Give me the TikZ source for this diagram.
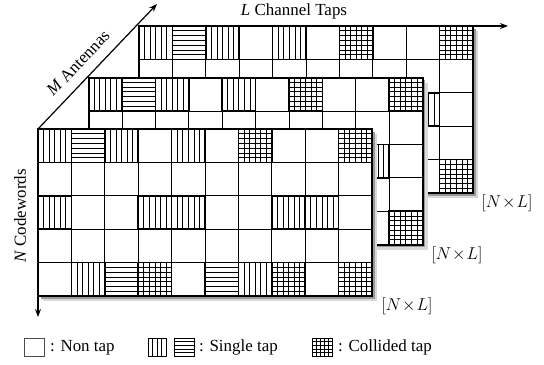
\documentclass[tikz,border=0pt]{standalone}
\usepackage{fontspec}
\setmainfont{Liberation Serif}
\usetikzlibrary{arrows.meta}
\def\cs{33.4}
\tikzset{
  cellline/.style={line width=0.8bp},
  patline/.style={line width=0.7bp},
  tapbox/.style={line width=1.6bp},
  gridframe/.style={line width=2bp},
  lbl/.style={font=\fontsize{17}{20}\selectfont, inner sep=0pt},
  axisarrow/.style={line width=1.2bp, -{Stealth[length=8bp,width=6bp]}},
  legbox/.style={line width=0.6bp},
}
\newcommand\gridlayer[2]{%
\begin{scope}[shift={(#1,#2)}]
  \fill[black!15] (5,5) rectangle (339,172);
  \fill[black!40] (2.5,2.5) rectangle (336.5,169.5);
  \fill[white] (0,0) rectangle (334,167);
  \foreach \cc/\rr in {0/0,2/0,4/0,0/2,3/2,4/2,7/2,8/2,1/4,6/4,6/0,9/0,3/4,7/4,9/4}
    \foreach \kk in {1,...,5}
      \draw[patline] ({(\cc+\kk/6)*\cs},{\rr*\cs}) -- ++(0,\cs);
  \foreach \cc/\rr in {1/0,2/4,5/4,6/0,9/0,3/4,7/4,9/4}
    \foreach \kk in {1,...,6}
      \draw[patline] ({\cc*\cs},{(\rr+\kk/7)*\cs}) -- ++(\cs,0);
  \foreach \ii in {1,...,9} \draw[cellline] ({\ii*\cs},0) -- ({\ii*\cs},167);
  \foreach \jj in {1,...,4} \draw[cellline] (0,{\jj*\cs}) -- (334,{\jj*\cs});
  \foreach \cc/\rr in {0/0,2/0,4/0,0/2,3/2,4/2,7/2,8/2,1/4,6/4,6/0,9/0,3/4,7/4,9/4,1/0,2/4,5/4}
    \draw[tapbox] ({\cc*\cs},{\rr*\cs}) rectangle ++(\cs,\cs);
  \draw[gridframe] (0,0) rectangle (334,167);
\end{scope}}
\begin{document}
\begin{tikzpicture}[x=1bp,y=-1bp]
\useasboundingbox (0,0) rectangle (544,364);
% layers (back to front)
\gridlayer{139}{26}
\gridlayer{88.5}{77.5}
\gridlayer{38}{129}
% axes
\coordinate (orig) at (38,129);
\coordinate (backtl) at (139,26);
\coordinate (mend) at (157,4);
\coordinate (lend) at (508,26);
\coordinate (nend) at (38,317);
\draw[axisarrow] (orig) -- (mend);
\draw[axisarrow] (backtl) -- (lend);
\draw[axisarrow] (orig) -- (nend);
% labels
\node[lbl] (llab) at (294,11) {\textit{L} Channel Taps};
\node[lbl, rotate=46.4] (mlab) at (78,63) {\textit{M} Antennas};
\node[lbl, rotate=90] (nlab) at (20,216) {\textit{N} Codewords};
\node[lbl] (dimf) at (407,306) {$[N\!\times\! L]$};
\node[lbl] (dimm) at (457,255) {$[N\!\times\! L]$};
\node[lbl] (dimb) at (507,203) {$[N\!\times\! L]$};
% legend
\draw[legbox, draw=black!70] (24,338) rectangle (44,356);
\node[lbl, anchor=west] (nontap) at (50,347.5) {: Non tap};
\draw[legbox] (148,338) rectangle (166,356);
\foreach \kk in {1,...,3} \draw[legbox] ({148+\kk*4.5},338) -- ++(0,18);
\draw[legbox] (174,338) rectangle (194,356);
\foreach \kk in {1,...,4} \draw[legbox] (174,{338+\kk*3.6}) -- ++(20,0);
\node[lbl, anchor=west] (single) at (199,347.5) {: Single tap};
\draw[legbox] (312,338) rectangle (332,356);
\foreach \kk in {1,...,4} \draw[legbox] ({312+\kk*4},338) -- ++(0,18);
\foreach \kk in {1,...,4} \draw[legbox] (312,{338+\kk*3.6}) -- ++(20,0);
\node[lbl, anchor=west] (collided) at (338,347.5) {: Collided tap};
\end{tikzpicture}
\end{document}
